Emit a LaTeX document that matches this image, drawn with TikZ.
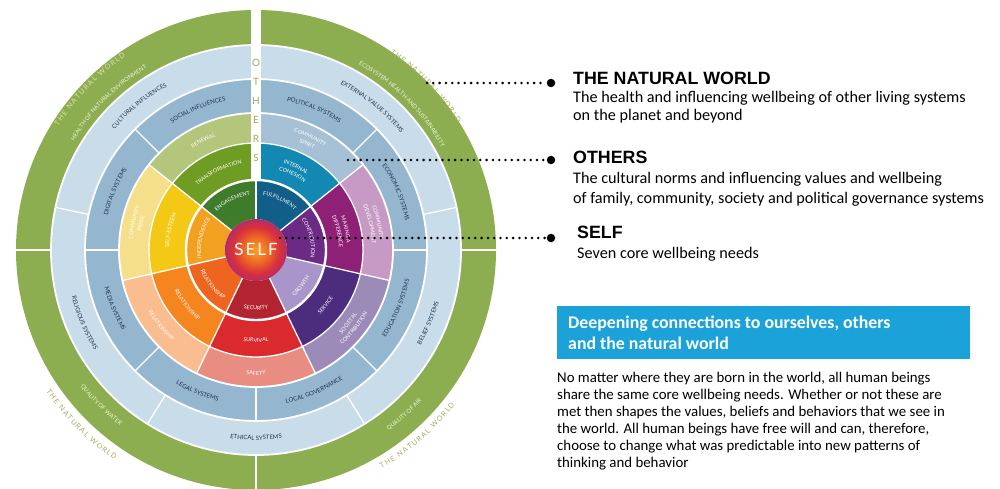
\documentclass[tikz,border=0pt]{standalone}
\usepackage{fontspec}
\setmainfont{Carlito}
\newfontfamily\hdrfont{Liberation Sans}
\newfontfamily\lblfont{Lato}
\usetikzlibrary{decorations.text}
\definecolor{natgreen}{HTML}{8CAE50}
\definecolor{natlite}{HTML}{EEF4DC}
\definecolor{ringB}{HTML}{C9DCE9}
\definecolor{ringA}{HTML}{94B6CF}
\definecolor{spirit}{HTML}{A6C1D5}
\definecolor{renewal}{HTML}{B4C57C}
\definecolor{transf}{HTML}{6F9C22}
\definecolor{engage}{HTML}{3E7B2A}
\definecolor{fulfil}{HTML}{115E88}
\definecolor{cohes}{HTML}{1288B2}
\definecolor{contrib}{HTML}{6B2B85}
\definecolor{making}{HTML}{8E2176}
\definecolor{commdev}{HTML}{C79AC6}
\definecolor{growth}{HTML}{A995C9}
\definecolor{service}{HTML}{4B2C7D}
\definecolor{societal}{HTML}{9C8BB9}
\definecolor{security}{HTML}{B42430}
\definecolor{survival}{HTML}{DA2A2D}
\definecolor{safety}{HTML}{E98D82}
\definecolor{relin}{HTML}{EE6520}
\definecolor{relmid}{HTML}{F5861F}
\definecolor{relout}{HTML}{F9BD8F}
\definecolor{indep}{HTML}{F2A01F}
\definecolor{esteem}{HTML}{F4C915}
\definecolor{pride}{HTML}{F6DF8B}
\definecolor{navy}{HTML}{22344F}
\definecolor{tnw}{HTML}{A8AD5F}
\definecolor{tnwlite}{HTML}{DCE2A8}
\definecolor{othersc}{HTML}{A3AA50}
\definecolor{boxblue}{HTML}{1BA3D9}
\definecolor{sA}{HTML}{F7A12B}
\definecolor{sB}{HTML}{EF6A24}
\definecolor{sC}{HTML}{D9303C}
\definecolor{sD}{HTML}{A22C7A}
\definecolor{sE}{HTML}{6E2C8C}
\pgfdeclareradialshading{selfshade}{\pgfpoint{0bp}{0bp}}{color(0bp)=(sA); color(10bp)=(sB); color(19bp)=(sC); color(28bp)=(sD); color(35bp)=(sE); color(50bp)=(sE)}
\newcommand\fIn{\lblfont\fontsize{5.4}{6}\selectfont}
\newcommand\fSys{\lblfont\fontsize{6}{7}\selectfont}
\newcommand\fNat{\lblfont\fontsize{5.8}{7}\selectfont}
\newcommand\fTNW{\lblfont\fontsize{7.2}{8}\selectfont}
\newcommand\annsec[5]{\fill[#1] (#2:#4) arc[start angle=#2,end angle=#3,radius=#4] -- (#3:#5) arc[start angle=#3,end angle=#2,radius=#5] -- cycle;}
\newcommand\cwl[5]{%
 \pgfmathsetmacro\lblS{#3+70}\pgfmathsetmacro\lblE{#3-70}\pgfmathsetmacro\lblR{#4-2}%
 \path[decorate,decoration={text along path,text align=center,text color=#1,text={|#2|#5}}] (\lblS:\lblR) arc[start angle=\lblS,end angle=\lblE,radius=\lblR];}
\newcommand\ccwl[5]{%
 \pgfmathsetmacro\lblS{#3-70}\pgfmathsetmacro\lblE{#3+70}\pgfmathsetmacro\lblR{#4+2}%
 \path[decorate,decoration={text along path,text align=center,text color=#1,text={|#2|#5}}] (\lblS:\lblR) arc[start angle=\lblS,end angle=\lblE,radius=\lblR];}
\tikzset{
 sep/.style={white,line width=1.3pt},
 ring/.style={white,line width=1.8pt},
 othl/.style={text=othersc,font=\lblfont\fontsize{10}{10}\selectfont,inner sep=0pt},
 hdr/.style={anchor=base west,inner sep=0pt,font=\hdrfont\bfseries\fontsize{17.8}{20}\selectfont},
 body/.style={anchor=base west,inner sep=0pt,font=\fontsize{16.2}{18}\selectfont},
 boxtxt/.style={anchor=base west,inner sep=0pt,text=white,font=\bfseries\fontsize{17.8}{20}\selectfont},
 para/.style={anchor=base west,inner sep=0pt,font=\fontsize{14.85}{17}\selectfont},
 dotline/.style={line width=2.8pt,line cap=round,dash pattern=on 0pt off 6.3pt},
 bigdot/.style={circle,fill=black,inner sep=0pt,minimum size=8.5pt}
}
\begin{document}
\begin{tikzpicture}[x=1pt,y=1pt]
\useasboundingbox (0,0) rectangle (1000,488);
\fill[white] (0,0) rectangle (1000,488);
\begin{scope}[shift={(256,238)}]
 \fill[natgreen,even odd rule] (0,0) circle (240) (0,0) circle (205);
 \fill[ringB,even odd rule] (0,0) circle (205) (0,0) circle (171);
 \fill[ringA,even odd rule] (0,0) circle (171) (0,0) circle (137);
 % ring 3
 \annsec{spirit}{38.571}{90}{107}{137}
 \annsec{renewal}{90}{141.429}{107}{137}
 \annsec{pride}{141.429}{192.857}{107}{137}
 \annsec{relout}{192.857}{244.286}{107}{137}
 \annsec{safety}{244.286}{295.714}{107}{137}
 \annsec{societal}{295.714}{347.143}{107}{137}
 \annsec{commdev}{-12.857}{38.571}{107}{137}
 % ring 2
 \annsec{cohes}{38.571}{90}{70}{107}
 \annsec{transf}{90}{141.429}{70}{107}
 \annsec{esteem}{141.429}{192.857}{70}{107}
 \annsec{relmid}{192.857}{244.286}{70}{107}
 \annsec{survival}{244.286}{295.714}{70}{107}
 \annsec{service}{295.714}{347.143}{70}{107}
 \annsec{making}{-12.857}{38.571}{70}{107}
 % ring 1
 \annsec{fulfil}{38.571}{90}{31}{70}
 \annsec{engage}{90}{141.429}{31}{70}
 \annsec{indep}{141.429}{192.857}{31}{70}
 \annsec{relin}{192.857}{244.286}{31}{70}
 \annsec{security}{244.286}{295.714}{31}{70}
 \annsec{growth}{295.714}{347.143}{31}{70}
 \annsec{contrib}{-12.857}{38.571}{31}{70}
 % white separators
 \foreach \a in {90,38.571,-12.857,-64.286,-115.714,-167.143,141.429} \draw[sep] (\a:31) -- (\a:137);
 \foreach \a in {0,45,135,180,225,270,315} \draw[sep] (\a:137) -- (\a:171);
 \foreach \a in {12,168,238,302} \draw[sep] (\a:171) -- (\a:205);
 \foreach \a in {0,180,270} \draw[sep] (\a:205) -- (\a:240);
 \draw[white,line width=2.4pt] (0,0) circle (70);
 \draw[white,line width=1.3pt] (0,0) circle (107);
 \draw[ring] (0,0) circle (137);
 \draw[ring] (0,0) circle (171);
 \draw[ring] (0,0) circle (205);
 \fill[white] (-5,69) rectangle (5,241);
 % SELF
 \shade[shading=selfshade] (0,0) circle (31);
 \node[text=white,font=\lblfont\fontsize{17}{17}\selectfont,inner sep=0pt] (selfT) at (0,1) {S\kern2pt E\kern2pt L\kern2pt F};
 % OTHERS strip
 \node[othl] (oO) at (0,187) {O};
 \node[othl] (oT) at (0,168) {T};
 \node[othl] (oH) at (0,149) {H};
 \node[othl] (oE) at (0,130) {E};
 \node[othl] (oR) at (0,111) {R};
 \node[othl] (oS) at (0,92) {S};
 % ring 1 labels
 \cwl{white}{\fIn}{115.714}{57}{ENGAGEMENT}
 \cwl{white}{\fIn}{64.286}{57}{FULFILLMENT}
 \cwl{white}{\fIn}{12.857}{57}{CONTRIBUTION}
 \ccwl{white}{\fIn}{-38.571}{58}{GROWTH}
 \ccwl{white}{\fIn}{-90}{58}{SECURITY}
 \ccwl{white}{\fIn}{-141.429}{57}{RELATIONSHIP}
 \cwl{white}{\fIn}{167.143}{57}{INDEPENDENCE}
 % ring 2 labels
 \cwl{white}{\fIn}{115.714}{89}{TRANSFORMATION}
 \cwl{white}{\fIn}{64.286}{93}{INTERNAL}
 \cwl{white}{\fIn}{64.286}{85}{COHESION}
 \cwl{white}{\fIn}{12.857}{93}{MAKING A}
 \cwl{white}{\fIn}{12.857}{85}{DIFFERENCE}
 \ccwl{white}{\fIn}{-38.571}{89}{SERVICE}
 \ccwl{white}{\fIn}{-90}{90}{SURVIVAL}
 \ccwl{white}{\fIn}{-141.429}{89}{RELATIONSHIP}
 \cwl{white}{\fIn}{167.143}{89}{SELF-ESTEEM}
 % ring 3 labels
 \cwl{white}{\fIn}{115.714}{122}{RENEWAL}
 \cwl{white}{\fIn}{64.286}{126}{COMMUNITY}
 \cwl{white}{\fIn}{64.286}{118}{SPIRIT}
 \cwl{white}{\fIn}{12.857}{126}{COMMUNITY}
 \cwl{white}{\fIn}{12.857}{118}{DEVELOPMENT}
 \ccwl{white}{\fIn}{-38.571}{118}{SOCIETAL}
 \ccwl{white}{\fIn}{-38.571}{126}{CONTRIBUTION}
 \ccwl{white}{\fIn}{-90}{123}{SAFETY}
 \ccwl{white}{\fIn}{-141.429}{122}{RELATIONSHIP}
 \cwl{white}{\fIn}{167.143}{126}{COMMUNITY}
 \cwl{white}{\fIn}{167.143}{118}{PRIDE}
 % ring A labels
 \cwl{navy}{\fSys}{112.5}{154}{SOCIAL INFLUENCES}
 \cwl{navy}{\fSys}{67.5}{154}{POLITICAL SYSTEMS}
 \cwl{navy}{\fSys}{22.5}{154}{ECONOMIC SYSTEMS}
 \cwl{navy}{\fSys}{157.5}{154}{DIGITAL SYSTEMS}
 \ccwl{navy}{\fSys}{202.5}{154}{MEDIA SYSTEMS}
 \ccwl{navy}{\fSys}{247.5}{154}{LEGAL SYSTEMS}
 \ccwl{navy}{\fSys}{292.5}{154}{LOCAL GOVERNANCE}
 \ccwl{navy}{\fSys}{337.5}{154}{EDUCATION SYSTEMS}
 % ring B labels
 \cwl{navy}{\fSys}{129}{188}{CULTURAL INFLUENCES}
 \cwl{navy}{\fSys}{51}{188}{EXTERNAL VALUE SYSTEMS}
 \ccwl{navy}{\fSys}{-23}{188}{BELIEF SYSTEMS}
 \ccwl{navy}{\fSys}{-90}{188}{ETHICAL SYSTEMS}
 \ccwl{navy}{\fSys}{-157}{188}{RELIGIOUS SYSTEMS}
 % green ring labels
 \cwl{natlite}{\fNat}{135}{214}{HEALTH OF NATURAL ENVIRONMENT}
 \cwl{natlite}{\fNat}{45}{214}{ECOSYSTEM HEALTH AND SUSTAINABILITY}
 \ccwl{natlite}{\fNat}{225}{220}{QUALITY OF WATER}
 \ccwl{natlite}{\fNat}{312}{222}{QUALITY OF AIR}
 \cwl{tnwlite}{\fTNW}{136}{235}{T{\kern1.3pt}H{\kern1.3pt}E{\kern4pt}N{\kern1.3pt}A{\kern1.3pt}T{\kern1.3pt}U{\kern1.3pt}R{\kern1.3pt}A{\kern1.3pt}L{\kern4pt}W{\kern1.3pt}O{\kern1.3pt}R{\kern1.3pt}L{\kern1.3pt}D}
 \cwl{tnw}{\fTNW}{44}{240}{T{\kern1.3pt}H{\kern1.3pt}E{\kern4pt}N{\kern1.3pt}A{\kern1.3pt}T{\kern1.3pt}U{\kern1.3pt}R{\kern1.3pt}A{\kern1.3pt}L{\kern4pt}W{\kern1.3pt}O{\kern1.3pt}R{\kern1.3pt}L{\kern1.3pt}D}
 \ccwl{tnw}{\fTNW}{225}{251}{T{\kern1.3pt}H{\kern1.3pt}E{\kern4pt}N{\kern1.3pt}A{\kern1.3pt}T{\kern1.3pt}U{\kern1.3pt}R{\kern1.3pt}A{\kern1.3pt}L{\kern4pt}W{\kern1.3pt}O{\kern1.3pt}R{\kern1.3pt}L{\kern1.3pt}D}
 \ccwl{tnw}{\fTNW}{311}{250}{T{\kern1.3pt}H{\kern1.3pt}E{\kern4pt}N{\kern1.3pt}A{\kern1.3pt}T{\kern1.3pt}U{\kern1.3pt}R{\kern1.3pt}A{\kern1.3pt}L{\kern4pt}W{\kern1.3pt}O{\kern1.3pt}R{\kern1.3pt}L{\kern1.3pt}D}
\end{scope}
% leaders
\coordinate (nwS) at (427,405);
\node[bigdot] (nwD) at (551,405) {};
\coordinate (otS) at (348,328);
\node[bigdot] (otD) at (551,328) {};
\coordinate (slS) at (280,250);
\node[bigdot] (slD) at (551,250) {};
\draw[dotline] (nwS) -- (nwD);
\draw[dotline] (otS) -- (otD);
\draw[dotline] (slS) -- (slD);
% right texts
\node[hdr] (nwH) at (573,403.5) {THE NATURAL WORLD};
\node[body] (nwB1) at (573,385) {The health and influencing wellbeing of other living systems};
\node[body] (nwB2) at (573,367) {on the planet and beyond};
\node[hdr] (otH) at (573,324.5) {OTHERS};
\node[body] (otB1) at (573,305) {The cultural norms and influencing values and wellbeing};
\node[body] (otB2) at (573,285) {of family, community, society and political governance systems};
\node[hdr] (slH) at (577,250) {SELF};
\node[body] (slB1) at (577,230) {Seven core wellbeing needs};
\node[fill=boxblue,minimum width=413pt,minimum height=53pt,inner sep=0pt] (box) at (763.5,155.5) {};
\node[boxtxt] (bx1) at (568,160) {Deepening connections to ourselves, others};
\node[boxtxt] (bx2) at (568,139) {and the natural world};
\node[para] (p1) at (557,106) {No matter where they are born in the world, all human beings};
\node[para] (p2) at (557,89) {share the same core wellbeing needs. Whether or not these are};
\node[para] (p3) at (557,72) {met then shapes the values, beliefs and behaviors that we see in};
\node[para] (p4) at (557,55) {the world. All human beings have free will and can, therefore,};
\node[para] (p5) at (557,38) {choose to change what was predictable into new patterns of};
\node[para] (p6) at (557,21) {thinking and behavior};
\end{tikzpicture}
\end{document}
